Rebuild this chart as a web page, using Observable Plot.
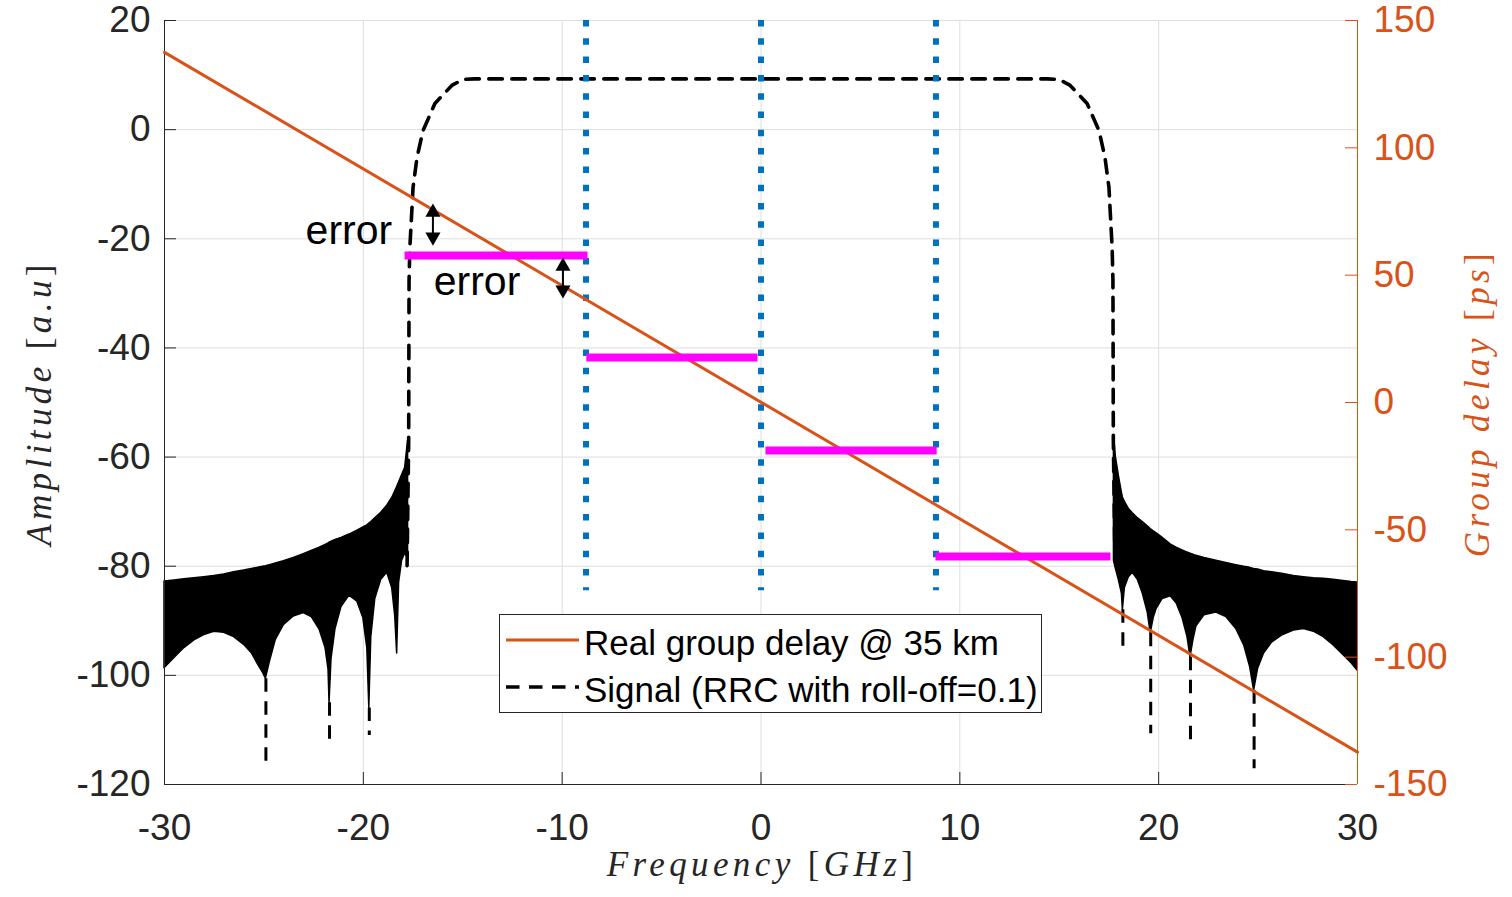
<!DOCTYPE html>
<html><head><meta charset="utf-8">
<script src="https://cdn.jsdelivr.net/npm/d3@7"></script>
<script src="https://cdn.jsdelivr.net/npm/@observablehq/plot@0.6"></script>
<style>
html,body{margin:0;padding:0;background:#fff;}
#wrap{position:relative;width:1512px;height:897px;overflow:hidden;background:#fff;}
#wrap svg{position:absolute;left:0;top:0;}
</style></head><body><div id="wrap"></div>
<script>
// ---------------- data ----------------
const xDomain = [-30, 30];
const ampDomain = [-120, 20];
const gdDomain = [-150, 150];
const xTicks = [-30, -20, -10, 0, 10, 20, 30];
const ampTicks = [20, 0, -20, -40, -60, -80, -100, -120];
const gdTicks = [150, 100, 50, 0, -50, -100, -150];

// Signal (RRC, roll-off 0.1): main band, dashed line [GHz, a.u.]
const sigF   = [-17.8, -17.72, -17.7, -17.66, -17.56, -17.5, -17.3, -17.0, -16.4, -15.55, -15.0, -14.4, 14.4, 15.0, 15.55, 16.4, 17.0, 17.3, 17.5, 17.56, 17.66, 17.7, 17.72, 17.8];
const sigAmp = [-79.9, -57, -27.6, -21.6, -14.8, -10.6, -5.1, -0.2, 4.8, 8.1, 9.2, 9.3, 9.3, 9.2, 8.1, 4.8, -0.2, -5.1, -10.6, -14.8, -21.6, -27.6, -57, -79];

// Signal side lobes: dense oscillation band (lower / upper envelope)
const leftLobeF    = [-30, -29.5, -29, -28.5, -28, -27.5, -27, -26.5, -26, -25.6, -25.3, -25.05, -24.9, -24.7, -24.4, -24.0, -23.5, -23.0, -22.6, -22.2, -21.9, -21.75, -21.7, -21.6, -21.4, -21.1, -20.7, -20.3, -20.0, -19.8, -19.7, -19.6, -19.4, -19.1, -18.8, -18.55, -18.4, -18.3, -18.2, -18.05, -17.9, -17.75];
const leftLobeLow  = [-98.7, -96.8, -95.0, -93.6, -92.6, -92.0, -92.2, -93.0, -94.4, -96.0, -98.0, -99.5, -100.6, -97.5, -93.5, -90.8, -89.2, -88.6, -89.3, -91.6, -95.0, -99, -105, -97, -91.5, -87.5, -85.4, -86.5, -89.5, -95, -106, -93, -86, -82.5, -81.2, -84, -89, -96, -83, -79, -77.7, -78.5];
const leftLobeHigh = [-82.8, -82.6, -82.4, -82.2, -82.0, -81.8, -81.5, -81.1, -80.8, -80.5, -80.3, -80.1, -80.0, -79.8, -79.5, -79.1, -78.5, -77.8, -77.2, -76.6, -76.1, -75.8, -75.7, -75.5, -75.2, -74.8, -74.2, -73.5, -72.9, -72.5, -72.2, -71.9, -71.2, -70.2, -68.9, -67.5, -66.3, -65.5, -64.6, -63.3, -62.0, -57];
const rightLobeF    = [17.75, 17.85, 18.0, 18.15, 18.2, 18.3, 18.5, 18.7, 18.95, 19.2, 19.45, 19.6, 19.75, 19.9, 20.2, 20.6, 20.9, 21.2, 21.45, 21.6, 21.75, 21.9, 22.3, 22.9, 23.4, 23.9, 24.3, 24.6, 24.8, 25.0, 25.3, 25.7, 26.2, 26.8, 27.3, 27.8, 28.3, 28.8, 29.3, 29.7, 30];
const rightLobeLow  = [-79, -80.5, -82.6, -85, -88, -84, -82.0, -81.2, -82.5, -85, -88.5, -92.3, -89.5, -87.8, -86.0, -85.5, -86.8, -89.5, -93, -96.7, -93.5, -91.0, -89.0, -88.5, -89.3, -91.5, -94.5, -98.5, -102.8, -98.8, -96.0, -94.0, -92.7, -91.8, -91.5, -92.0, -93.0, -94.5, -96.3, -97.8, -99.1];
const rightLobeHigh = [-56, -60, -63.5, -66.5, -67.4, -68.2, -69.5, -70.3, -71.2, -71.9, -72.7, -73.2, -73.6, -74.0, -74.8, -76.0, -76.6, -77.1, -77.5, -77.7, -77.9, -78.1, -78.5, -79.0, -79.4, -79.8, -80.1, -80.3, -80.5, -80.6, -80.9, -81.1, -81.4, -81.8, -82.0, -82.2, -82.3, -82.5, -82.7, -82.9, -83.0];

// Deep spectral nulls (dashed continuation below the band)
const nullF    = [-24.9, -21.7, -19.7, 18.2, 19.6, 21.6, 24.8];
const nullFrom = [-100.6, -105, -106, -88, -92.3, -96.7, -102.8];
const nullTo   = [-116.5, -112.3, -111, -95.8, -110.7, -112.5, -117.1];

// Sub-band boundaries (blue dotted)
const bandF = [-8.8, 0, 8.8];
const bandTop = 20;
const bandBottom = -84.5;

// Real group delay @ 35 km [ps]
const gdF   = [-30, 30];
const gdVal = [137.5, -137.3];

// Per-sub-band group delay (magenta) [ps]
const binStart = [-17.9, -8.76, 0.25, 8.8];
const binEnd   = [-8.7, -0.15, 8.86, 17.6];
const binDelay = [57.7, 17.7, -18.8, -60.5];

// Error arrows [ps]
const arrowF      = [-16.5, -9.96];
const arrowTop    = [78.1, 56.9];
const arrowBottom = [61.6, 40.8];

// Annotations
const errLabels = ["error", "error"];
const errF      = [-18.55, -16.46];
const errDelay  = [62.4, 42.4];
const errAnchor = ["end", "start"];

const legendLabels = ["Real group delay @ 35 km", "Signal (RRC with roll-off=0.1)"];
const xLabel = ["Frequency ", "[", "GHz", "]"];
const yLabel = ["Amplitude ", "[", "a.u", "]"];
const y2Label = ["Group delay ", "[", "ps", "]"];

// ---------------- styling ----------------
const C = {axis: "#262626", grid: "#dedede", orange: "#D95319", blue: "#0072BD", magenta: "#FF00FF"};
const W = 1512, H = 897, ML = 164, MR = 155, MT = 20, MB = 113;
const FW = W - ML - MR, FH = H - MT - MB;
const TICK = 12;
const DASH = "13.5,9.5";
const common = {
  width: W, height: H, marginLeft: ML, marginRight: MR, marginTop: MT, marginBottom: MB,
  style: {fontFamily: "'Liberation Sans', Arial, Helvetica, sans-serif", fontSize: "37px", background: "transparent", overflow: "visible"}
};

// ---------------- tables ----------------
const signal = sigF.map((f, i) => ({f, amp: sigAmp[i]}));
const leftLobe = leftLobeF.map((f, i) => ({f, low: leftLobeLow[i], high: leftLobeHigh[i]}));
const rightLobe = rightLobeF.map((f, i) => ({f, low: rightLobeLow[i], high: rightLobeHigh[i]}));
const nulls = nullF.map((f, i) => ({f, from: nullFrom[i], to: nullTo[i]}));
const bands = bandF.map(f => ({f, top: bandTop, bottom: bandBottom}));
const gdLine = gdF.map((f, i) => ({f, gd: gdVal[i]}));
const bins = binStart.map((s, i) => ({start: s, end: binEnd[i], gd: binDelay[i]}));
const arrows = arrowF.map((f, i) => ({f, top: arrowTop[i], bottom: arrowBottom[i]}));
const errs = errLabels.map((t, i) => ({t, f: errF[i], gd: errDelay[i], anchor: errAnchor[i]}));

// ---------------- left (amplitude) layer ----------------
const plotA = Plot.plot({
  ...common,
  x: {domain: xDomain, label: null},
  y: {domain: ampDomain, label: null},
  marks: [
    Plot.ruleX(xTicks, {x: d => d, stroke: C.grid, strokeWidth: 1}),
    Plot.ruleY(ampTicks, {y: d => d, stroke: C.grid, strokeWidth: 1}),
    Plot.areaY(leftLobe, {x: "f", y1: "low", y2: "high", fill: "#000", stroke: "#000", strokeWidth: 1.5}),
    Plot.areaY(rightLobe, {x: "f", y1: "low", y2: "high", fill: "#000", stroke: "#000", strokeWidth: 1.5}),
    Plot.ruleX(nulls, {x: "f", y1: "from", y2: "to", stroke: "#000", strokeWidth: 3, strokeDasharray: DASH}),
    Plot.line(signal, {x: "f", y: "amp", stroke: "#000", strokeWidth: 3.6, strokeDasharray: DASH}),
    Plot.ruleX(bands, {x: "f", y1: "top", y2: "bottom", stroke: C.blue, strokeWidth: 6, strokeDasharray: "6.5,11.8"}),
    Plot.ruleX([xDomain[0]], {x: d => d, stroke: C.axis}),
    Plot.ruleY([ampDomain[0]], {y: d => d, stroke: C.axis}),
    Plot.ruleX(xTicks, {x: d => d, insetTop: FH - TICK, stroke: C.axis}),
    Plot.ruleY(ampTicks, {y: d => d, insetRight: FW - TICK, stroke: C.axis}),
    Plot.axisX({ticks: xTicks, tickSize: 0, tickPadding: 29, tickFormat: d => String(d), label: null, fill: C.axis}),
    Plot.axisY({ticks: ampTicks, anchor: "left", tickSize: 0, tickPadding: 14, tickFormat: d => String(d), label: null, fill: C.axis})
  ]
});

// ---------------- right (group delay) layer ----------------
const plotB = Plot.plot({
  ...common,
  x: {domain: xDomain, label: null, axis: null},
  y: {domain: gdDomain, label: null},
  marks: [
    Plot.line(gdLine, {x: "f", y: "gd", stroke: C.orange, strokeWidth: 3}),
    Plot.ruleY(bins, {x1: "start", x2: "end", y: "gd", stroke: C.magenta, strokeWidth: 8}),
    Plot.ruleX(arrows, {x: "f", y1: "top", y2: "bottom", stroke: "#000", strokeWidth: 2, insetTop: 10, insetBottom: 10}),
    Plot.dot(arrows, {x: "f", y: "top", symbol: "triangle", r: 5.6, fill: "#000", stroke: "none", dy: 8.7}),
    Plot.dot(arrows, {x: "f", y: "bottom", symbol: "triangle", r: 5.6, fill: "#000", stroke: "none", rotate: 180, dy: -8.7}),
    Plot.text(errs.filter(d => d.anchor === "end"), {x: "f", y: "gd", text: "t", textAnchor: "end", lineAnchor: "bottom", fontSize: 41, fill: "#000"}),
    Plot.text(errs.filter(d => d.anchor === "start"), {x: "f", y: "gd", text: "t", textAnchor: "start", lineAnchor: "bottom", fontSize: 41, fill: "#000"}),
    Plot.ruleX([xDomain[1]], {x: d => d, stroke: C.orange}),
    Plot.ruleY(gdTicks, {y: d => d, insetLeft: FW - TICK, stroke: C.orange}),
    Plot.axisY({ticks: gdTicks, anchor: "right", tickSize: 0, tickPadding: 16, tickFormat: d => String(d), label: null, fill: C.orange})
  ]
});

const wrap = document.getElementById("wrap");
wrap.appendChild(plotA);
wrap.appendChild(plotB);

// ---------------- axis labels & legend ----------------
const ov = d3.select(wrap).append("svg").attr("width", W).attr("height", H);
function label(parts, x, y, rot, color) {
  const t = ov.append("text")
    .attr("transform", `translate(${x},${y})` + (rot ? ` rotate(${rot})` : ""))
    .attr("text-anchor", "middle")
    .attr("font-family", "'Liberation Serif', 'Times New Roman', serif")
    .attr("font-size", 35)
    .attr("letter-spacing", "4.4px")
    .attr("fill", color);
  parts.forEach((p) => {
    t.append("tspan").attr("font-style", (p === "[" || p === "]") ? "normal" : "italic").text(p);
  });
}
label(xLabel, 762, 876, 0, C.axis);
label(yLabel, 51, 403, -90, C.axis);
label(y2Label, 1489, 403, -90, C.orange);

const lg = ov.append("g");
lg.append("rect").attr("x", 499.5).attr("y", 614.5).attr("width", 542).attr("height", 98)
  .attr("fill", "#fff").attr("stroke", C.axis).attr("stroke-width", 1);
const legendStyles = [
  {stroke: C.orange, dash: null, width: 3},
  {stroke: "#000", dash: DASH, width: 3.5}
];
legendLabels.forEach((txt, i) => {
  const base = 655 + i * 47;
  lg.append("line").attr("x1", 506).attr("x2", 579).attr("y1", base - 15).attr("y2", base - 15)
    .attr("stroke", legendStyles[i].stroke).attr("stroke-width", legendStyles[i].width)
    .attr("stroke-dasharray", legendStyles[i].dash);
  lg.append("text").attr("x", 584).attr("y", base)
    .attr("font-family", "'Liberation Sans', Arial, sans-serif").attr("font-size", 35)
    .attr("fill", "#000").text(txt);
});
</script></body></html>
